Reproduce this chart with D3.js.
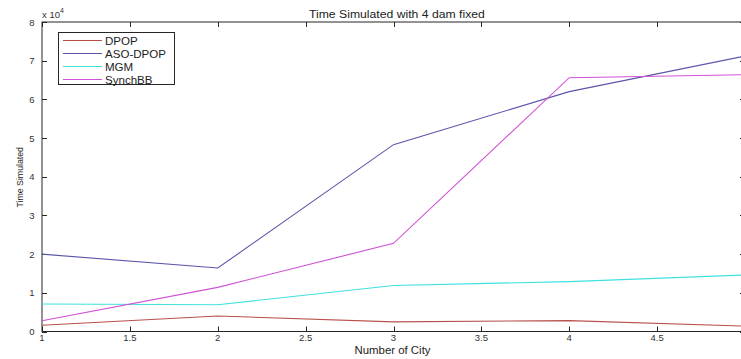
<!DOCTYPE html>
<html>
<head>
<meta charset="utf-8">
<script src="https://cdn.jsdelivr.net/npm/d3@7"></script>
<style>
  html, body { margin: 0; padding: 0; background: #fff; }
  svg { display: block; font-family: "Liberation Sans", Arial, sans-serif; }
</style>
</head>
<body>
<svg id="chart" width="741" height="359"></svg>
<script>
// Number of cities on the x axis
const cities = [1, 2, 3, 4, 5];

// Simulated time for each algorithm
const dpop    = [1600, 4000, 2500, 2800, 1400];
const asoDpop = [20000, 16400, 48300, 62000, 71200];
const mgm     = [7100, 6900, 11900, 12900, 14600];
const synchBB = [2800, 11400, 22800, 65600, 66400];

const seriesNames  = ["DPOP", "ASO-DPOP", "MGM", "SynchBB"];
const seriesValues = [dpop, asoDpop, mgm, synchBB];
const seriesColors = ["#b8504c", "#5a55a8", "#3fe0e0", "#d052d6"];

const xTicks = [1, 1.5, 2, 2.5, 3, 3.5, 4, 4.5, 5];
const xTickLabels = ["1", "1.5", "2", "2.5", "3", "3.5", "4", "4.5", ""];
const yTicks = [0, 1, 2, 3, 4, 5, 6, 7, 8];
const yScaleFactor = 1e4;

const svg = d3.select("#chart");
const plotLeft = 42, plotRight = 745, plotTop = 22, plotBottom = 331.5;

const x = d3.scaleLinear().domain([1, 5]).range([plotLeft, plotRight]);
const y = d3.scaleLinear().domain([0, 8 * yScaleFactor]).range([plotBottom, plotTop]);

const axisColor = "#262626";
const tickLen = 5;

// stretch a text element horizontally by a factor
function widen(sel, factor) {
  const n = sel.node();
  const w = n.getComputedTextLength();
  sel.attr("textLength", w * factor).attr("lengthAdjust", "spacingAndGlyphs");
  return sel;
}

// plot frame
svg.append("rect")
  .attr("x", plotLeft).attr("y", plotTop)
  .attr("width", plotRight - plotLeft).attr("height", plotBottom - plotTop)
  .attr("fill", "#fff").attr("stroke", axisColor).attr("stroke-width", 1);

// inward ticks on all four sides
const tickG = svg.append("g").attr("stroke", axisColor).attr("stroke-width", 1);
xTicks.forEach(t => {
  const px = Math.round(x(t)) + 0.5;
  tickG.append("line").attr("x1", px).attr("x2", px).attr("y1", plotBottom).attr("y2", plotBottom - tickLen);
  tickG.append("line").attr("x1", px).attr("x2", px).attr("y1", plotTop).attr("y2", plotTop + tickLen);
});
yTicks.forEach(t => {
  const py = Math.round(y(t * yScaleFactor)) + 0.5;
  tickG.append("line").attr("x1", plotLeft).attr("x2", plotLeft + tickLen).attr("y1", py).attr("y2", py);
  tickG.append("line").attr("x1", plotRight).attr("x2", plotRight - tickLen).attr("y1", py).attr("y2", py);
});

// tick labels
const labelColor = "#333";
xTicks.forEach((t, i) => {
  svg.append("text")
    .attr("x", x(t)).attr("y", 341)
    .attr("text-anchor", "middle")
    .attr("font-size", 9.5).attr("fill", labelColor)
    .text(xTickLabels[i]);
});
yTicks.forEach(t => {
  svg.append("text")
    .attr("x", 34.5).attr("y", y(t * yScaleFactor) + 3.5)
    .attr("text-anchor", "end")
    .attr("font-size", 9.5).attr("fill", labelColor)
    .text(t);
});

// exponent marker
const expText = svg.append("text")
  .attr("x", 42).attr("y", 18)
  .attr("font-size", 9.5).attr("fill", labelColor);
expText.append("tspan").text("x 10");
expText.append("tspan").attr("font-size", 7).attr("dy", -5).text("4");

// title and axis labels
widen(svg.append("text")
  .attr("x", 309).attr("y", 17.5)
  .attr("font-size", 10).attr("fill", "#222")
  .text("Time Simulated with 4 dam fixed"), 1.22);
svg.append("text")
  .attr("x", 354.5).attr("y", 353.5)
  .attr("font-size", 10).attr("fill", "#222")
  .attr("textLength", 76).attr("lengthAdjust", "spacingAndGlyphs")
  .text("Number of City");
svg.append("text")
  .attr("transform", `translate(22.5, 207.5) rotate(-90)`)
  .attr("font-size", 9.5).attr("fill", "#222")
  .attr("textLength", 60.5).attr("lengthAdjust", "spacingAndGlyphs")
  .text("Time Simulated");

// series lines
const line = d3.line()
  .x((d, i) => x(cities[i]))
  .y(d => y(d));
seriesValues.forEach((vals, i) => {
  svg.append("path")
    .datum(vals)
    .attr("d", line)
    .attr("fill", "none")
    .attr("stroke", seriesColors[i])
    .attr("stroke-width", 1.1);
});

// legend
const legend = svg.append("g");
legend.append("rect")
  .attr("x", 58.5).attr("y", 32.5).attr("width", 116).attr("height", 52)
  .attr("fill", "#fff").attr("stroke", axisColor).attr("stroke-width", 1);
seriesNames.forEach((name, i) => {
  const ly = 40.5 + i * 13;
  legend.append("line")
    .attr("x1", 63).attr("x2", 102).attr("y1", ly).attr("y2", ly)
    .attr("stroke", seriesColors[i]).attr("stroke-width", 1.1);
  widen(legend.append("text")
    .attr("x", 105).attr("y", ly + 4)
    .attr("font-size", 10.5).attr("fill", "#222")
    .text(name), 1.1);
});
</script>
</body>
</html>
